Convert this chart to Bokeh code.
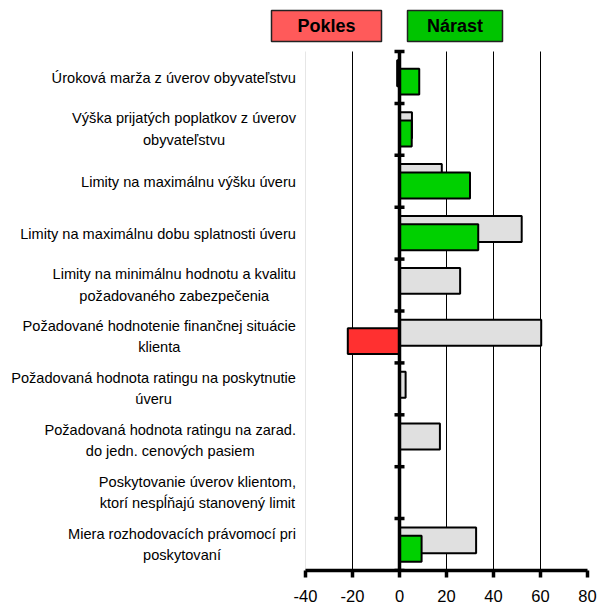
from bokeh.plotting import figure
from bokeh.models import Range1d, FixedTicker, Grid
from bokeh.embed import file_html
from bokeh.resources import INLINE
from bokeh.core.properties import value

# ---------------- data ----------------
category_lines = [
    ["Úroková marža z úverov obyvateľstvu"],
    ["Výška prijatých poplatkov z úverov", "obyvateľstvu"],
    ["Limity na maximálnu výšku úveru"],
    ["Limity na maximálnu dobu splatnosti úveru"],
    ["Limity na minimálnu hodnotu a kvalitu", "požadovaného zabezpečenia"],
    ["Požadované hodnotenie finančnej situácie", "klienta"],
    ["Požadovaná hodnota ratingu na poskytnutie", "úveru"],
    ["Požadovaná hodnota ratingu na zarad.", "do jedn. cenových pasiem"],
    ["Poskytovanie úverov klientom,", "ktorí nespĺňajú stanovený limit"],
    ["Miera rozhodovacích právomocí pri", "poskytovaní"],
]
series_gray = [-1.0, 5.3, 18.0, 52.0, 25.8, 60.3, 2.6, 17.2, 0.0, 32.6]
series_main = [8.4, 5.2, 30.0, 33.5, 0.0, -22.0, 0.0, 0.0, 0.0, 9.4]
x_ticks = [-40, -20, 0, 20, 40, 60, 80]
x_tick_labels = ["-40", "-20", "0", "20", "40", "60", "80"]
grid_ticks = [-20, 20, 40, 60]
edge_ticks = [-40, 80]
legend_labels = ["Pokles", "Nárast"]

# ---------------- style / layout ----------------
FIG_W, FIG_H = 610, 609
AX_LEFT_PX, AX_RIGHT_PX = 305, 587      # pixel position of -40 and 80
TOP_PX, BOTTOM_PX = 51, 570             # top of first category, x axis
X0, X1 = x_ticks[0], x_ticks[-1]
n = len(category_lines)
PX_PER_UNIT = (AX_RIGHT_PX - AX_LEFT_PX) / (X1 - X0)
PX_PER_CAT = (BOTTOM_PX - TOP_PX) / n
LABEL_RIGHT = 295.5
LABEL_FS = 14.6
FONT = "Liberation Sans"

GRAY = "#e0e0e0"
GREEN = "#00d000"
RED = "#ff3030"

ARIAL = {' ': 278, '.': 278, ',': 278,
         'a': 556, 'b': 556, 'c': 500, 'd': 556, 'e': 556, 'f': 278, 'g': 556,
         'h': 556, 'i': 222, 'j': 222, 'k': 500, 'l': 222, 'm': 833, 'n': 556,
         'o': 556, 'p': 556, 'q': 556, 'r': 333, 's': 500, 't': 278, 'u': 556,
         'v': 500, 'w': 722, 'x': 500, 'y': 500, 'z': 500,
         'á': 556, 'é': 556, 'í': 278, 'ó': 556, 'ú': 556, 'ý': 500, 'ž': 500,
         'š': 500, 'č': 500, 'ň': 556, 'ľ': 292, 'ĺ': 222, 'ô': 556,
         'Ú': 722, 'V': 667, 'L': 556, 'P': 667, 'M': 833}


def text_width(s, size):
    return sum(ARIAL.get(c, 556) for c in s) * size / 1000.0


def px_to_x(px):
    return X0 + (px - AX_LEFT_PX) / PX_PER_UNIT


def px_to_y(py):
    return -0.5 + (py - TOP_PX) / PX_PER_CAT


idx = list(range(n))

p = figure(width=FIG_W, height=FIG_H,
           x_range=Range1d(px_to_x(0), X1),
           y_range=Range1d(n - 0.5, px_to_y(0)),
           output_backend="svg", toolbar_location=None, y_axis_location=None,
           min_border_left=0, min_border_right=FIG_W - AX_RIGHT_PX,
           min_border_top=0, min_border_bottom=FIG_H - BOTTOM_PX)
p.outline_line_color = None
p.ygrid.visible = False
p.xgrid.ticker = FixedTicker(ticks=grid_ticks)
p.xgrid.grid_line_color = "black"
p.xgrid.grid_line_width = 1
p.xgrid.cross_bounds = (-0.5, n - 0.5)

edge_grid = Grid(dimension=0, ticker=FixedTicker(ticks=edge_ticks), grid_line_color="#e6e6e6",
                 grid_line_width=1, cross_bounds=(-0.5, n - 0.5))
p.add_layout(edge_grid)

# bars
p.hbar(y=[i - 0.08 for i in idx], left=0, right=series_gray, height=0.5,
       fill_color=GRAY, line_color="black", line_width=2)
p.hbar(y=[i + 0.08 for i in idx], left=0, right=series_main, height=0.5,
       fill_color=[GREEN if v >= 0 else RED for v in series_main], line_color="black", line_width=2)

# zero axis with cross ticks at category boundaries
p.segment(x0=[0], y0=[-0.5], x1=[0], y1=[n - 0.5], line_color="black", line_width=3.5)
p.scatter(x=[0] * (n + 1), y=[i - 0.5 for i in range(n + 1)], marker="dash", size=10,
          line_color="black", line_width=3.5)

# x axis
ax = p.xaxis[0]
ax.bounds = (X0, X1)
ax.ticker = FixedTicker(ticks=x_ticks)
ax.major_label_overrides = {t: s for t, s in zip(x_ticks, x_tick_labels)}
ax.axis_line_width = 3.5
ax.axis_line_color = "black"
ax.major_tick_line_width = 3.5
ax.major_tick_line_color = "black"
ax.major_tick_out = 7
ax.major_tick_in = 0
ax.minor_tick_line_color = None
ax.major_label_text_font = FONT
ax.major_label_text_font_size = "16.5px"
ax.major_label_text_color = "black"
ax.major_label_standoff = 12

# category labels (lines centred within a right-aligned block)
lx, ly, lt = [], [], []
for i, lines in enumerate(category_lines):
    block_w = max(text_width(s, LABEL_FS) for s in lines)
    cx = px_to_x(LABEL_RIGHT - block_w / 2)
    offs = [1] if len(lines) == 1 else [-11, 10.5]
    for s, off in zip(lines, offs):
        lx.append(cx)
        ly.append(i + off / PX_PER_CAT)
        lt.append(s)
p.text(x=lx, y=ly, text=lt, text_align="center", text_baseline="middle",
       text_font=value(FONT), text_font_size=f"{LABEL_FS}px", text_color="black")

# legend boxes above the plot
leg_left_px = [271, 407]
leg_right_px = [381, 502]
leg_top_px, leg_bottom_px = 10, 41
leg_colors = ["#ff5a5a", "#00c400"]
p.quad(left=[px_to_x(v) for v in leg_left_px], right=[px_to_x(v) for v in leg_right_px],
       top=[px_to_y(leg_top_px)] * 2, bottom=[px_to_y(leg_bottom_px)] * 2,
       fill_color=leg_colors, line_color="#222222", line_width=1.5)
p.text(x=[px_to_x((a + b) / 2) for a, b in zip(leg_left_px, leg_right_px)],
       y=[px_to_y((leg_top_px + leg_bottom_px) / 2)] * 2, text=legend_labels,
       text_align="center", text_baseline="middle", text_font=value(FONT),
       text_font_size="18px", text_font_style="bold", text_color="black")

open("out.html", "w").write(file_html(p, INLINE))
